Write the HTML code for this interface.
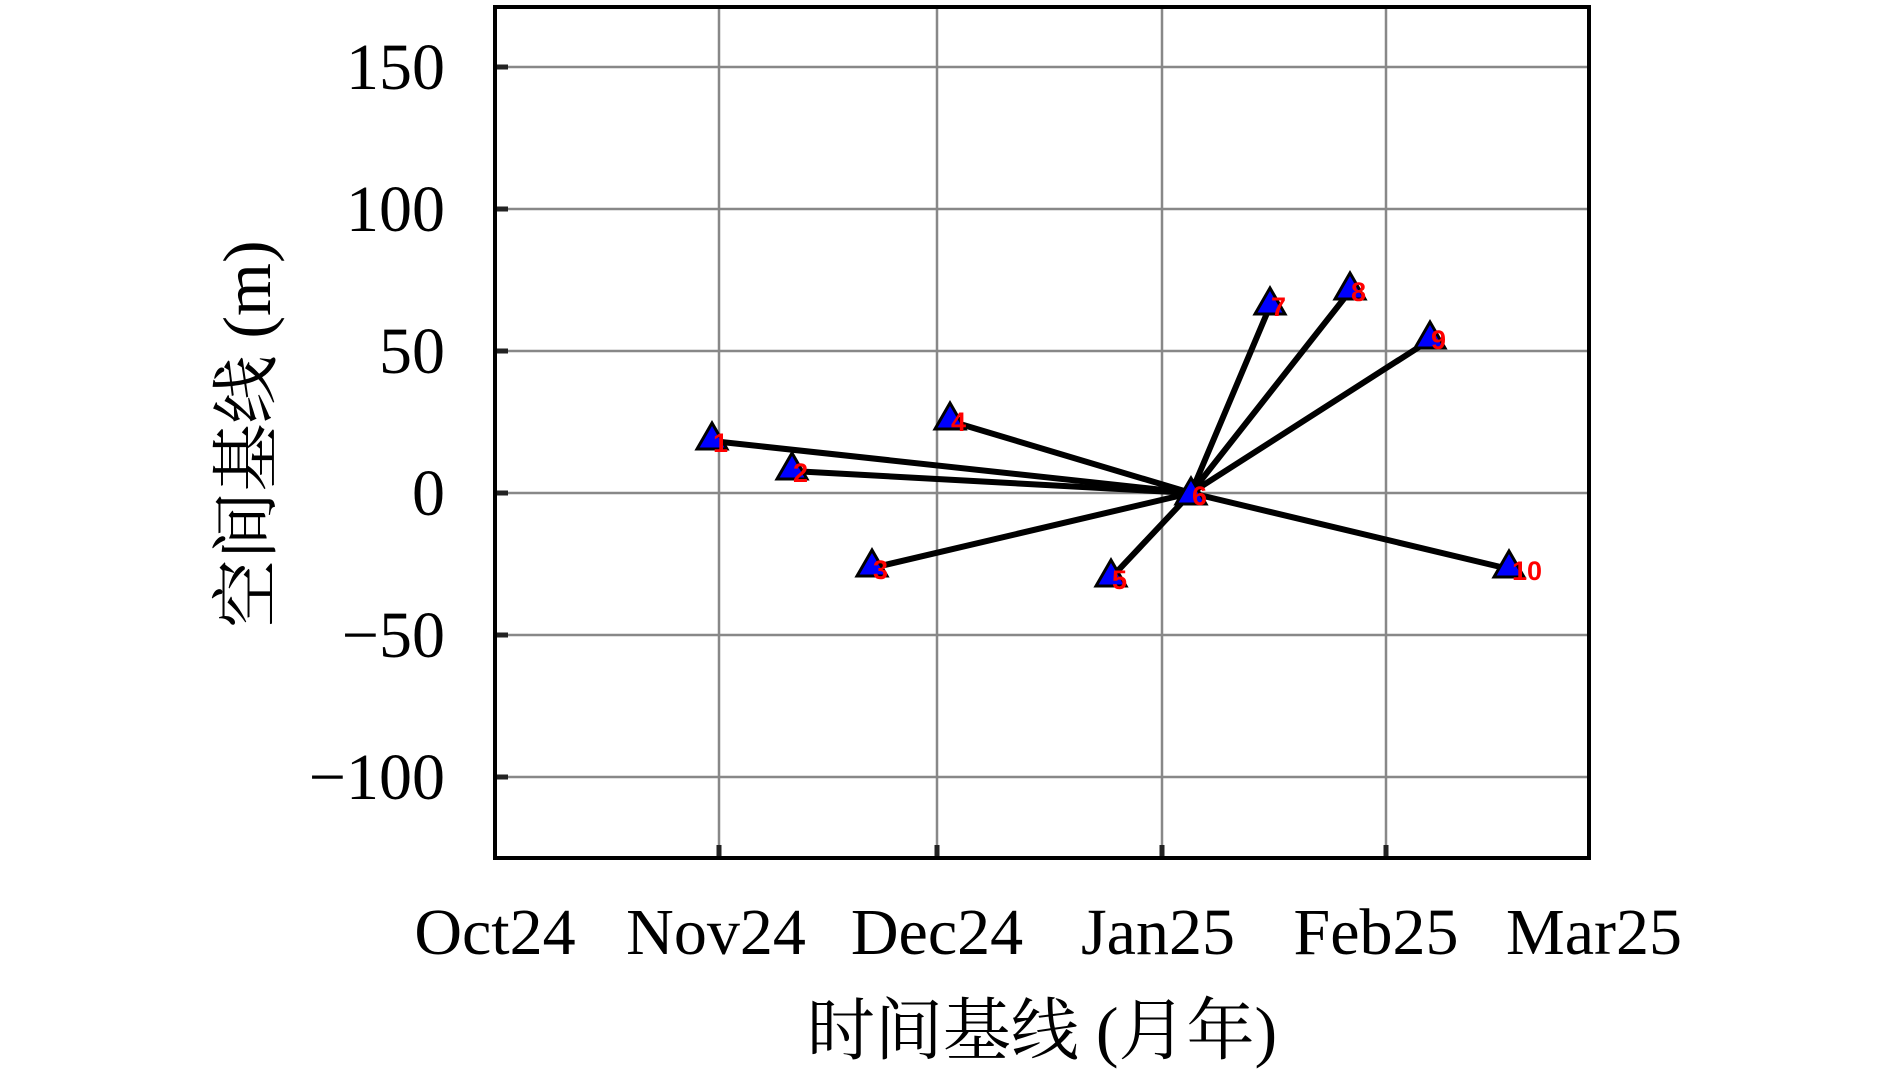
<!DOCTYPE html>
<html><head><meta charset="utf-8"><style>
html,body{margin:0;padding:0;background:#fff;}
svg{display:block;}
.t{font-family:"Liberation Serif","Noto Serif CJK SC",serif;font-size:66px;fill:#000;}
.c{font-family:"Liberation Serif","Noto Serif CJK SC",serif;font-size:68px;fill:#000;}
.n{font-family:"Liberation Sans",sans-serif;font-weight:bold;font-size:27px;fill:#ff0000;}
</style></head><body>
<svg width="1890" height="1075" viewBox="0 0 1890 1075" xmlns="http://www.w3.org/2000/svg">
<g stroke="#888" stroke-width="2.5">
<line x1="719" y1="5" x2="719" y2="859"/>
<line x1="937" y1="5" x2="937" y2="859"/>
<line x1="1162" y1="5" x2="1162" y2="859"/>
<line x1="1386" y1="5" x2="1386" y2="859"/>
<line x1="493" y1="67" x2="1590" y2="67"/>
<line x1="493" y1="209" x2="1590" y2="209"/>
<line x1="493" y1="351" x2="1590" y2="351"/>
<line x1="493" y1="493" x2="1590" y2="493"/>
<line x1="493" y1="635" x2="1590" y2="635"/>
<line x1="493" y1="777" x2="1590" y2="777"/>
</g>
<g stroke="#222" stroke-width="5">
<line x1="493" y1="67" x2="508" y2="67"/>
<line x1="493" y1="209" x2="508" y2="209"/>
<line x1="493" y1="351" x2="508" y2="351"/>
<line x1="493" y1="493" x2="508" y2="493"/>
<line x1="493" y1="635" x2="508" y2="635"/>
<line x1="493" y1="777" x2="508" y2="777"/>
<line x1="719" y1="859" x2="719" y2="845"/>
<line x1="937" y1="859" x2="937" y2="845"/>
<line x1="1162" y1="859" x2="1162" y2="845"/>
<line x1="1386" y1="859" x2="1386" y2="845"/>
</g>
<rect x="495" y="7" width="1094" height="851" fill="none" stroke="#000" stroke-width="4"/>
<g stroke="#000" stroke-width="6" stroke-linecap="round">
<line x1="1191" y1="493" x2="712" y2="441"/>
<line x1="1191" y1="493" x2="792" y2="471"/>
<line x1="1191" y1="493" x2="872" y2="568"/>
<line x1="1191" y1="493" x2="950" y2="421"/>
<line x1="1191" y1="493" x2="1111" y2="578"/>
<line x1="1191" y1="493" x2="1270" y2="306"/>
<line x1="1191" y1="493" x2="1350" y2="291"/>
<line x1="1191" y1="493" x2="1430" y2="340"/>
<line x1="1191" y1="493" x2="1509" y2="569"/>
</g>
<g fill="#0000ff" stroke="#000" stroke-width="3" stroke-linejoin="miter">
<polygon points="712,423 697,449 727,449"/>
<polygon points="792,453 777,479 807,479"/>
<polygon points="872,550 857,576 887,576"/>
<polygon points="950,403 935,429 965,429"/>
<polygon points="1111,560 1096,586 1126,586"/>
<polygon points="1191,478 1176,504 1206,504"/>
<polygon points="1270,288 1255,314 1285,314"/>
<polygon points="1350,273 1335,299 1365,299"/>
<polygon points="1430,322 1415,348 1445,348"/>
<polygon points="1509,551 1494,577 1524,577"/>
</g>
<g class="n">
<text x="713" y="452">1</text>
<text x="793" y="482">2</text>
<text x="873" y="579">3</text>
<text x="951" y="431">4</text>
<text x="1112" y="589">5</text>
<text x="1192" y="505">6</text>
<text x="1271" y="316">7</text>
<text x="1351" y="301">8</text>
<text x="1431" y="349">9</text>
<text x="1512" y="580">10</text>
</g>
<g class="t" text-anchor="end">
<text x="445" y="89">150</text>
<text x="445" y="231">100</text>
<text x="445" y="373">50</text>
<text x="445" y="515">0</text>
<text x="445" y="657">−50</text>
<text x="445" y="799">−100</text>
</g>
<g class="t" text-anchor="middle">
<text x="495" y="954">Oct24</text>
<text x="716" y="954">Nov24</text>
<text x="937" y="954">Dec24</text>
<text x="1158" y="954">Jan25</text>
<text x="1376" y="954">Feb25</text>
<text x="1594" y="954">Mar25</text>
</g>
<text class="c" x="1042" y="1054" text-anchor="middle">时间基线 (月年)</text>
<text class="c" x="0" y="0" text-anchor="middle" transform="translate(270,434) rotate(-90)">空间基线 (m)</text>
</svg>
</body></html>
